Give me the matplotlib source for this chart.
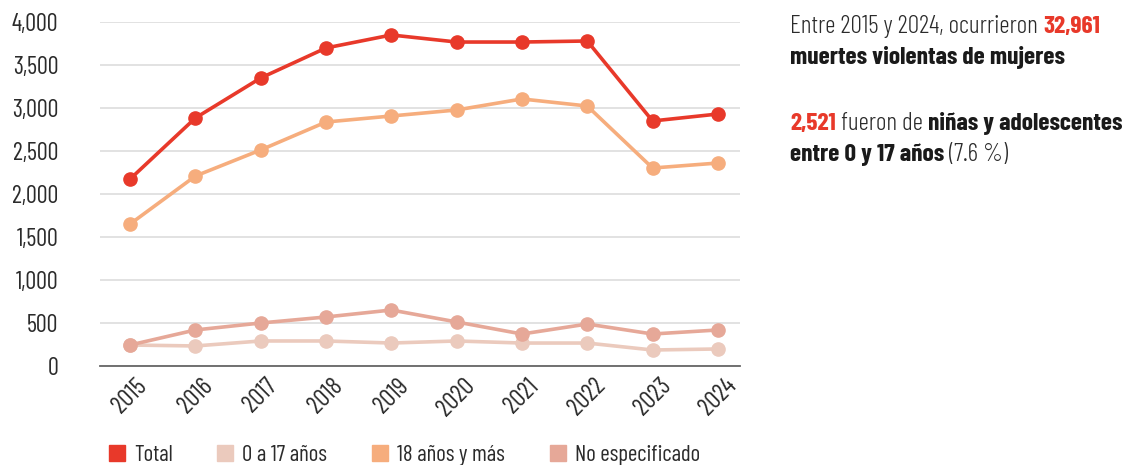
import matplotlib.pyplot as plt
from matplotlib.lines import Line2D

years = [2015, 2016, 2017, 2018, 2019, 2020, 2021, 2022, 2023, 2024]
total = [2174, 2884, 3349, 3698, 3849, 3767, 3767, 3779, 2849, 2930]
age_0_17 = [244, 233, 291, 291, 267, 291, 267, 267, 186, 198]
age_18_plus = [1651, 2209, 2512, 2837, 2907, 2977, 3105, 3023, 2302, 2360]
unspecified = [244, 419, 500, 570, 651, 512, 372, 488, 372, 419]

series_names = ["Total", "0 a 17 años", "18 años y más", "No especificado"]
colors = ["#e8392a", "#ebcabd", "#f6ad7d", "#e6a898"]

plt.rcParams["font.family"] = ["Barlow Condensed", "DejaVu Sans"]
plt.rcParams["font.weight"] = 400
txt_col = "#2b2b2b"

fig = plt.figure(figsize=(11.28, 4.65), dpi=100)
ax = fig.add_axes([0.0887, 0.2129, 0.5674, 0.7398])

kw = dict(lw=2.6, marker="o", markersize=9.5, clip_on=False)
ax.plot(years, age_18_plus, color=colors[2], zorder=3, **kw)
ax.plot(years, age_0_17, color=colors[1], zorder=3, **kw)
ax.plot(years, unspecified, color=colors[3], zorder=4, **kw)
ax.plot(years, total, color=colors[0], zorder=5, **kw)

ax.set_ylim(0, 4000)
ax.set_xlim(2014.54, 2024.34)
ax.set_yticks(range(0, 4001, 500))
ax.set_yticklabels([f"{v:,}" for v in range(0, 4001, 500)], fontsize=17.5, color=txt_col)
ax.set_xticks(years)
ax.set_xticklabels([str(y) for y in years], rotation=45, ha="center", fontsize=18,
                   color=txt_col)
ax.tick_params(axis="both", length=0)
ax.tick_params(axis="y", pad=30)
ax.tick_params(axis="x", pad=6)
ax.grid(axis="y", color="#dddddd", lw=1.2)
ax.set_axisbelow(True)
for s in ["top", "right", "left"]:
    ax.spines[s].set_visible(False)
ax.spines["bottom"].set_color("#666666")
ax.spines["bottom"].set_linewidth(1.3)

handles = [Line2D([], [], ls="none", marker="s", markersize=11, color=c) for c in colors]
fig.legend(handles, series_names, loc="center left", bbox_to_anchor=(0.078, 0.02),
           ncol=4, frameon=False, fontsize=16.5, handlelength=0.7, handletextpad=0.4,
           columnspacing=1.95, labelcolor=txt_col)

# right-hand note, built from pieces of plain, bold and red text
fig.canvas.draw()
renderer = fig.canvas.get_renderer()
red = "#e8392a"
lines = [
    (0.943, [("Entre 2015 y 2024, ocurrieron ", 300, txt_col), ("32,961", "bold", red)]),
    (0.876, [("muertes violentas de mujeres", "bold", "#1a1a1a")]),
    (0.734, [("2,521", "bold", red), (" fueron de ", 300, txt_col),
             ("niñas y adolescentes", "bold", "#1a1a1a")]),
    (0.667, [("entre 0 y 17 años", "bold", "#1a1a1a"), (" (7.6 %)", 300, txt_col)]),
]
for y, parts in lines:
    x = 790 / 1128
    for txt, weight, col in parts:
        t = fig.text(x, y, txt, fontsize=18.3, fontweight=weight, color=col, va="center")
        bb = t.get_window_extent(renderer)
        x += bb.width / fig.bbox.width

fig.savefig("out.png", dpi=100)
